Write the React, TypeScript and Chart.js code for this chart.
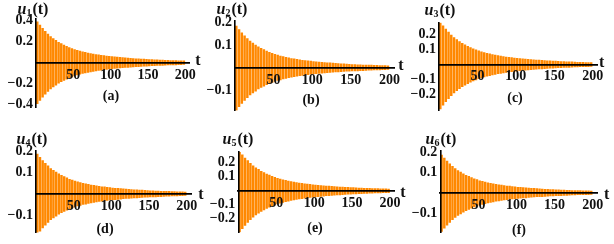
import React, { useEffect, useRef } from "react";
import { Chart, registerables } from "chart.js";
Chart.register(...registerables);

// ---- data ----
// x tick labels (t)
const X_TICKS = [50, 100, 150, 200];
// oscillation: one stripe per cycle, starting at T_START, cycle length PERIOD (t units)
const T_START = 1.7;
const PERIOD = 3.57;

// peak amplitudes per cycle (upper envelope), u1
const U1_PEAKS = [0.39, 0.359, 0.328, 0.3, 0.273, 0.25, 0.23, 0.213, 0.195, 0.181, 0.168, 0.156, 0.144, 0.135, 0.125, 0.117, 0.11, 0.103, 0.098, 0.092, 0.087, 0.082, 0.078, 0.074, 0.07, 0.067, 0.064, 0.06, 0.058, 0.055, 0.053, 0.05, 0.048, 0.046, 0.044, 0.042, 0.04, 0.038, 0.037, 0.035, 0.034, 0.032, 0.03, 0.029, 0.028, 0.027, 0.026, 0.025, 0.023, 0.022, 0.021, 0.02, 0.02, 0.019, 0.018, 0.017];
const U1_TROUGHS = [0.39, 0.359, 0.328, 0.3, 0.273, 0.25, 0.23, 0.213, 0.195, 0.181, 0.168, 0.156, 0.144, 0.135, 0.125, 0.117, 0.11, 0.103, 0.098, 0.092, 0.087, 0.082, 0.078, 0.074, 0.07, 0.067, 0.064, 0.06, 0.058, 0.055, 0.053, 0.05, 0.048, 0.046, 0.044, 0.042, 0.04, 0.038, 0.037, 0.035, 0.034, 0.032, 0.03, 0.029, 0.028, 0.027, 0.026, 0.025, 0.023, 0.022, 0.021, 0.02, 0.02, 0.019, 0.018, 0.017];

// u2, u4, u6 (read as practically identical)
const U2_PEAKS = [0.185, 0.17, 0.155, 0.142, 0.13, 0.118, 0.109, 0.101, 0.093, 0.086, 0.08, 0.074, 0.068, 0.064, 0.059, 0.056, 0.052, 0.049, 0.046, 0.044, 0.041, 0.039, 0.037, 0.035, 0.033, 0.032, 0.03, 0.029, 0.027, 0.026, 0.025, 0.024, 0.023, 0.022, 0.021, 0.02, 0.019, 0.018, 0.017, 0.017, 0.016, 0.015, 0.014, 0.014, 0.013, 0.013, 0.012, 0.012, 0.011, 0.011, 0.01, 0.01, 0.009, 0.009, 0.009, 0.008];
const U2_TROUGHS = [0.19, 0.174, 0.159, 0.146, 0.133, 0.121, 0.112, 0.104, 0.095, 0.088, 0.082, 0.076, 0.07, 0.066, 0.061, 0.057, 0.054, 0.05, 0.048, 0.045, 0.042, 0.04, 0.038, 0.036, 0.034, 0.032, 0.031, 0.029, 0.028, 0.027, 0.026, 0.025, 0.023, 0.022, 0.021, 0.02, 0.019, 0.019, 0.018, 0.017, 0.016, 0.016, 0.015, 0.014, 0.014, 0.013, 0.013, 0.012, 0.011, 0.011, 0.01, 0.01, 0.01, 0.009, 0.009, 0.008];

// u3, u5
const U3_PEAKS = [0.278, 0.258, 0.235, 0.216, 0.196, 0.179, 0.165, 0.153, 0.14, 0.13, 0.12, 0.112, 0.104, 0.097, 0.09, 0.084, 0.079, 0.074, 0.07, 0.066, 0.062, 0.059, 0.056, 0.053, 0.05, 0.048, 0.046, 0.043, 0.041, 0.039, 0.038, 0.036, 0.034, 0.033, 0.031, 0.03, 0.029, 0.027, 0.026, 0.025, 0.024, 0.023, 0.022, 0.021, 0.02, 0.019, 0.018, 0.018, 0.017, 0.016, 0.015, 0.015, 0.014, 0.013, 0.013, 0.012];
const U3_TROUGHS = [0.295, 0.271, 0.248, 0.227, 0.207, 0.189, 0.174, 0.161, 0.148, 0.137, 0.127, 0.118, 0.109, 0.102, 0.094, 0.089, 0.083, 0.078, 0.074, 0.07, 0.066, 0.062, 0.059, 0.056, 0.053, 0.05, 0.048, 0.046, 0.044, 0.042, 0.04, 0.038, 0.036, 0.035, 0.033, 0.032, 0.03, 0.029, 0.028, 0.027, 0.025, 0.024, 0.023, 0.022, 0.021, 0.02, 0.019, 0.019, 0.018, 0.017, 0.016, 0.015, 0.015, 0.014, 0.014, 0.013];

// y tick labels per panel
const Y_TICKS_A = [-0.4, -0.2, 0.2, 0.4];
const Y_TICKS_B = [-0.1, 0.1, 0.2];
const Y_TICKS_C = [-0.2, -0.1, 0.1, 0.2];
const Y_TICKS_D = [-0.1, 0.1, 0.2];
const Y_TICKS_E = [-0.2, -0.1, 0.1, 0.2];
const Y_TICKS_F = [-0.1, 0.1, 0.2];

const SERIES_NAMES = ["1", "2", "3", "4", "5", "6"];
const PANEL_LETTERS = ["(a)", "(b)", "(c)", "(d)", "(e)", "(f)"];

// ---- layout / style ----
const ORANGE = "#ff8800";
const INK = "#111111";
const FONT = '"Liberation Serif", "Times New Roman", serif';

type Panel = {
  peaks: number[];
  troughs: number[];
  yTicks: number[];
  yMin: number;
  yMax: number;
  name: string;
  letter: string;
  box: { left: number; top: number; w: number; h: number };
  axisW: number;
  pad: { top: number; right: number; bottom: number };
  title: [number, number];
  tLab: [number, number];
  letterPos: [number, number];
};

const PANELS: Panel[] = [
  {
    peaks: U1_PEAKS, troughs: U1_TROUGHS, yTicks: Y_TICKS_A, yMin: -0.422, yMax: 0.423,
    name: SERIES_NAMES[0], letter: PANEL_LETTERS[0],
    box: { left: 0, top: 0, w: 205, h: 122 }, axisW: 36,
    pad: { top: 18.3, right: 15.2, bottom: 15 },
    title: [33, 9.5], tLab: [198, 61], letterPos: [111, 96.7],
  },
  {
    peaks: U2_PEAKS, troughs: U2_TROUGHS, yTicks: Y_TICKS_B, yMin: -0.191, yMax: 0.209,
    name: SERIES_NAMES[1], letter: PANEL_LETTERS[1],
    box: { left: 205, top: 0, w: 205, h: 122 }, axisW: 30,
    pad: { top: 20.7, right: 15.9, bottom: 11.3 },
    title: [27, 9.5], tLab: [196, 66], letterPos: [106, 100],
  },
  {
    peaks: U3_PEAKS, troughs: U3_TROUGHS, yTicks: Y_TICKS_C, yMin: -0.307, yMax: 0.278,
    name: SERIES_NAMES[2], letter: PANEL_LETTERS[2],
    box: { left: 410, top: 0, w: 204, h: 122 }, axisW: 29,
    pad: { top: 22.7, right: 16.7, bottom: 10.3 },
    title: [30, 10.2], tLab: [191.7, 63], letterPos: [105, 98.3],
  },
  {
    peaks: U2_PEAKS, troughs: U2_TROUGHS, yTicks: Y_TICKS_D, yMin: -0.181, yMax: 0.203,
    name: SERIES_NAMES[3], letter: PANEL_LETTERS[3],
    box: { left: 0, top: 122, w: 205, h: 122 }, axisW: 36,
    pad: { top: 28.3, right: 13.8, bottom: 5.3 },
    title: [32, 17.8], tLab: [201, 72.7], letterPos: [105, 107.3],
  },
  {
    peaks: U3_PEAKS, troughs: U3_TROUGHS, yTicks: Y_TICKS_E, yMin: -0.3, yMax: 0.278,
    name: SERIES_NAMES[4], letter: PANEL_LETTERS[4],
    box: { left: 205, top: 122, w: 205, h: 122 }, axisW: 33.3,
    pad: { top: 30, right: 15.4, bottom: 5.3 },
    title: [33, 17.8], tLab: [198, 70.7], letterPos: [110, 106.7],
  },
  {
    peaks: U2_PEAKS, troughs: U2_TROUGHS, yTicks: Y_TICKS_F, yMin: -0.196, yMax: 0.205,
    name: SERIES_NAMES[5], letter: PANEL_LETTERS[5],
    box: { left: 410, top: 122, w: 204, h: 122 }, axisW: 30.3,
    pad: { top: 29, right: 16.7, bottom: 3.7 },
    title: [31, 17.8], tLab: [196.7, 72.7], letterPos: [109, 108.3],
  },
];

function fmtY(v: number): string {
  return (v < 0 ? "\u2212" : "") + Math.abs(v).toFixed(1);
}

function PanelChart({ p }: { p: Panel }) {
  const ref = useRef<HTMLCanvasElement | null>(null);
  useEffect(() => {
    const canvas = ref.current;
    if (!canvas) return;
    const data = p.peaks.map((pk, k) => ({
      x: T_START + k * PERIOD,
      y: [-p.troughs[k], pk],
    }));
    const textPlugin = {
      id: "panelText",
      afterDraw(chart: any) {
        const ctx = chart.ctx as CanvasRenderingContext2D;
        ctx.save();
        ctx.fillStyle = INK;
        // title u_n(t)
        const fU = `italic bold 16px ${FONT}`;
        const fS = `bold 10px ${FONT}`;
        const fT = `bold 16px ${FONT}`;
        ctx.font = fU;
        const wU = ctx.measureText("u").width;
        ctx.font = fS;
        const wS = ctx.measureText(p.name).width;
        ctx.font = fT;
        const wT = ctx.measureText("(t)").width;
        const total = wU + wS + 1 + wT;
        let x = p.title[0] - total / 2;
        const base = p.title[1] + 4.5;
        ctx.textBaseline = "alphabetic";
        ctx.textAlign = "left";
        ctx.font = fU;
        ctx.fillText("u", x, base);
        x += wU;
        ctx.font = fS;
        ctx.fillText(p.name, x, base + 2);
        x += wS + 1;
        ctx.font = fT;
        ctx.fillText("(t)", x, base);
        // axis label t
        ctx.textAlign = "center";
        ctx.textBaseline = "middle";
        ctx.font = `bold 16px ${FONT}`;
        ctx.fillText("t", p.tLab[0], p.tLab[1]);
        // panel letter
        ctx.font = `bold 14px ${FONT}`;
        ctx.fillText(p.letter, p.letterPos[0], p.letterPos[1]);
        ctx.restore();
      },
    };
    const tickFont = { family: FONT, weight: "bold" as const, size: 14 };
    const chart = new Chart(canvas, {
      type: "bar",
      data: {
        datasets: [
          {
            data: data as any,
            backgroundColor: ORANGE,
            borderWidth: 0,
            barThickness: 1.8,
            grouped: false,
          } as any,
        ],
      },
      options: {
        animation: false,
        responsive: false,
        devicePixelRatio: 1,
        events: [],
        layout: {
          padding: { left: 0, top: p.pad.top, right: p.pad.right, bottom: p.pad.bottom },
        },
        plugins: { legend: { display: false }, tooltip: { enabled: false } },
        scales: {
          x: {
            type: "linear",
            min: 0,
            max: 206,
            offset: false,
            position: { y: 0 } as any,
            grid: { display: false, drawTicks: false },
            border: { display: true, color: "#000", width: 1.8, z: 2 },
            ticks: {
              font: tickFont,
              color: INK,
              padding: 4,
              maxRotation: 0,
              autoSkip: false,
              z: 2,
              callback: (v: any) => String(v),
            },
            afterBuildTicks: (s: any) => {
              s.ticks = X_TICKS.map((v) => ({ value: v }));
            },
          },
          y: {
            type: "linear",
            min: p.yMin,
            max: p.yMax,
            position: "left",
            grid: { display: false, drawTicks: false },
            border: { display: true, color: "#000", width: 1.6, z: 2 },
            ticks: {
              font: tickFont,
              color: INK,
              padding: 3,
              autoSkip: false,
              callback: (v: any) => fmtY(Number(v)),
            },
            afterBuildTicks: (s: any) => {
              s.ticks = p.yTicks.map((v) => ({ value: v }));
            },
            afterFit: (s: any) => {
              s.width = p.axisW;
            },
          },
        },
      } as any,
      plugins: [textPlugin],
    });
    return () => chart.destroy();
  }, [p]);
  return (
    <canvas
      ref={ref}
      width={p.box.w}
      height={p.box.h}
      style={{
        position: "absolute",
        left: p.box.left,
        top: p.box.top,
        width: p.box.w,
        height: p.box.h,
      }}
    />
  );
}

export default function App() {
  return (
    <div
      style={{
        position: "absolute",
        left: 0,
        top: 0,
        width: 614,
        height: 244,
        background: "#fff",
        overflow: "hidden",
      }}
    >
      {PANELS.map((p, i) => (
        <PanelChart key={i} p={p} />
      ))}
    </div>
  );
}
